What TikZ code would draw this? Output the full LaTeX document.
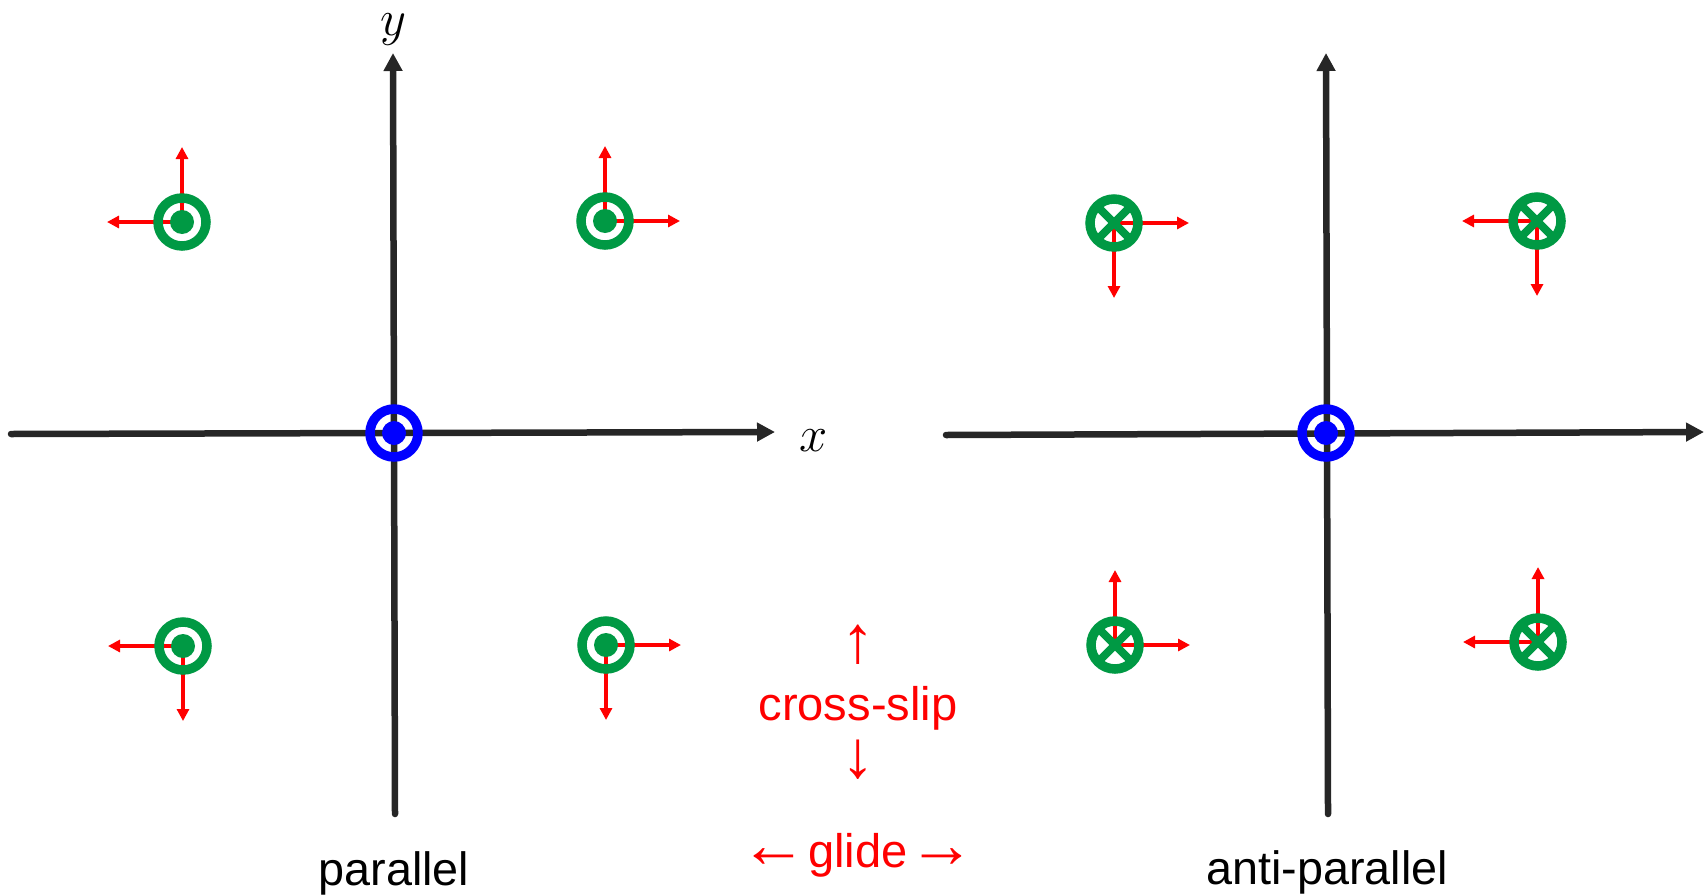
\documentclass[tikz,border=0pt]{standalone}
\usepackage{fontspec}
\setmainfont{Liberation Sans}
\usepackage{tikz}
\usetikzlibrary{arrows.meta, positioning, backgrounds}
\definecolor{dislgreen}{RGB}{0,153,68}
\definecolor{axisgray}{RGB}{38,38,38}
\newcommand{\bigglyph}[1]{{\fontsize{19}{20}\selectfont #1}}
\tikzset{
  axisline/.style={-{Triangle[length=1.8mm, width=1.8mm]}, line width=0.65mm,
    line cap=round, draw=axisgray},
  sliparrow/.style={-{Triangle[length=1.2mm, width=1.2mm]}, line width=0.4mm, draw=red},
  dotring/.style={
    circle, inner sep=0pt, minimum size=4.8mm, line width=0.95mm, draw=#1,
    path picture={\fill[#1] (path picture bounding box.center) circle (1.2mm);}
  },
  crossring/.style={
    circle, inner sep=0pt, minimum size=4.8mm, line width=0.95mm, draw=#1,
    path picture={\draw[#1, line width=0.8mm]
      (path picture bounding box.south west) -- (path picture bounding box.north east)
      (path picture bounding box.north west) -- (path picture bounding box.south east);}
  },
  caption/.style={anchor=base, font=\fontsize{13.3}{16}\selectfont},
  hint/.style={font=\fontsize{13.4}{16}\selectfont, text=red},
  axislabel/.style={font=\fontsize{15}{18}\selectfont},
}

\begin{document}
\begin{tikzpicture}
    \useasboundingbox (0,0) rectangle (17.07,8.94);

    \coordinate (px0) at (0.11,4.60);
    \coordinate (px1) at (7.75,4.62);
    \coordinate (py0) at (3.95,0.80);
    \coordinate (py1) at (3.93,8.41);
    \coordinate (ax0) at (9.46,4.59);
    \coordinate (ax1) at (17.04,4.62);
    \coordinate (ay0) at (13.28,0.80);
    \coordinate (ay1) at (13.26,8.41);

    \draw[axisline] (px0) -- (px1);
    \draw[axisline] (py0) -- (py1);
    \draw[axisline] (ax0) -- (ax1);
    \draw[axisline] (ay0) -- (ay1);

    \node[axislabel] (xlab) at (8.14,4.53) {$x$};
    \node[axislabel] (ylab) at (3.93,8.64) {$y$};

    \node[dotring=blue] (o1) at (3.94,4.61)  {};
    \node[dotring=blue] (o2) at (13.26,4.61) {};

    \node[dotring=dislgreen]   (ptl) at (1.82,6.72)  {};
    \node[dotring=dislgreen]   (ptr) at (6.05,6.73)  {};
    \node[dotring=dislgreen]   (pbl) at (1.83,2.48)  {};
    \node[dotring=dislgreen]   (pbr) at (6.06,2.49)  {};
    \node[crossring=dislgreen] (atl) at (11.14,6.71) {};
    \node[crossring=dislgreen] (atr) at (15.37,6.73) {};
    \node[crossring=dislgreen] (abl) at (11.15,2.49) {};
    \node[crossring=dislgreen] (abr) at (15.38,2.52) {};

    \begin{scope}[on background layer]
      \draw[sliparrow] (ptl.center) -- ++(0,0.75);
      \draw[sliparrow] (ptl.center) -- ++(-0.75,0);
      \draw[sliparrow] (ptr.center) -- ++(0,0.75);
      \draw[sliparrow] (ptr.center) -- ++(0.75,0);
      \draw[sliparrow] (pbl.center) -- ++(-0.75,0);
      \draw[sliparrow] (pbl.center) -- ++(0,-0.75);
      \draw[sliparrow] (pbr.center) -- ++(0.75,0);
      \draw[sliparrow] (pbr.center) -- ++(0,-0.75);
      \draw[sliparrow] (atl.center) -- ++(0.75,0);
      \draw[sliparrow] (atl.center) -- ++(0,-0.75);
      \draw[sliparrow] (atr.center) -- ++(-0.75,0);
      \draw[sliparrow] (atr.center) -- ++(0,-0.75);
      \draw[sliparrow] (abl.center) -- ++(0,0.75);
      \draw[sliparrow] (abl.center) -- ++(0.75,0);
      \draw[sliparrow] (abr.center) -- ++(0,0.75);
      \draw[sliparrow] (abr.center) -- ++(-0.75,0);
    \end{scope}

    \node[hint, anchor=base] (crossslip) at (8.58,1.74) {cross-slip};
    \node[hint] (slipup)   at (8.58,2.49) {\bigglyph{↑}};
    \node[hint] (slipdown) at (8.58,1.34) {\bigglyph{↓}};
    \node[hint, anchor=base] (glide) at (8.58,0.27)
      {\bigglyph{←}\hspace{-1.2mm} glide \hspace{-1.2mm}\bigglyph{→}};

    \node[caption] (par)     at (3.94,0.09)  {parallel};
    \node[caption] (antipar) at (13.27,0.10) {anti-parallel};
\end{tikzpicture}
\end{document}
